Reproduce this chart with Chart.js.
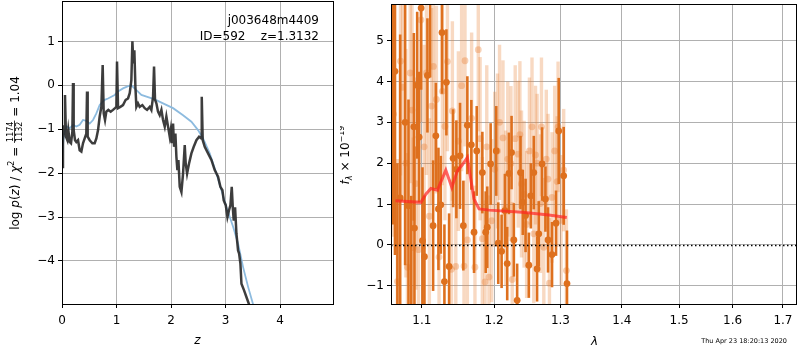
<!DOCTYPE html>
<html>
<head>
<meta charset="utf-8">
<script src="https://cdn.jsdelivr.net/npm/chart.js@4.4.1/dist/chart.umd.min.js"></script>
<style>
  body { margin: 0; background: #fff; }
  #wrap { position: relative; width: 800px; height: 350px; }
  canvas { position: absolute; top: 0; }
</style>
</head>
<body>
<div id="wrap">
  <canvas id="pz" width="340" height="350" style="left:0"></canvas>
  <canvas id="spec" width="460" height="350" style="left:340px"></canvas>
</div>
<script>
// p(z) panel
const Z_BLACK = [0,0.018,0.037,0.055,0.073,0.098,0.116,0.141,0.165,0.190,0.202,0.214,0.239,0.263,0.294,0.324,0.355,0.385,0.416,0.446,0.459,0.471,0.508,0.557,0.599,0.630,0.661,0.691,0.722,0.746,0.765,0.789,0.813,0.850,0.893,0.936,0.972,0.997,1.009,1.028,1.070,1.119,1.168,1.211,1.242,1.272,1.291,1.309,1.327,1.346,1.364,1.394,1.425,1.474,1.517,1.560,1.609,1.639,1.670,1.688,1.706,1.731,1.761,1.792,1.823,1.853,1.884,1.914,1.945,1.976,1.994,2.012,2.037,2.055,2.080,2.098,2.116,2.135,2.159,2.190,2.220,2.251,2.269,2.294,2.330,2.373,2.416,2.465,2.514,2.557,2.563,2.581,2.618,2.679,2.740,2.801,2.862,2.905,2.942,2.966,3.003,3.034,3.064,3.089,3.113,3.132,3.150,3.174,3.199,3.229,3.248,3.272,3.291,3.339,3.382,3.431,3.47];
const LOGP_BLACK = [-1.86,-1.25,-0.94,-0.22,-1.17,-1.25,-1.02,-1.29,-1.32,-1.06,0.05,-1.02,-1.25,-1.29,-1.25,-1.48,-1.51,-1.32,-1.21,-1.10,-0.14,-1.17,-1.25,-1.32,-1.32,-1.21,-1.02,-0.71,-0.49,0.46,-0.64,-0.79,-0.60,-0.56,-0.60,-0.56,-0.52,-0.49,0.54,-0.52,-0.49,-0.45,-0.33,-0.30,-0.18,0.12,1.0,0.5,0.8,-0.03,-0.49,-0.41,-0.49,-0.45,-0.52,-0.56,-0.49,-0.56,-0.26,0.43,-0.33,-0.41,-0.60,-0.68,-0.56,-0.79,-0.94,-0.71,-0.94,-1.17,-1.02,-1.32,-0.87,-1.40,-1.10,-1.63,-1.93,-1.70,-2.31,-2.43,-2.01,-1.36,-1.78,-2.01,-1.78,-1.55,-1.40,-1.25,-1.17,-1.21,-0.26,-1.25,-1.40,-1.55,-1.70,-1.93,-2.08,-2.31,-2.39,-2.62,-2.73,-3.0,-2.84,-2.73,-2.31,-2.78,-3.08,-2.78,-3.38,-3.76,-3.83,-4.06,-4.52,-4.67,-4.82,-4.99,-5.3];
const Z_BLUE = [0,0.037,0.080,0.141,0.202,0.263,0.324,0.385,0.446,0.508,0.569,0.630,0.691,0.783,0.844,0.905,0.966,1.028,1.119,1.211,1.272,1.364,1.456,1.578,1.700,1.853,2.037,2.220,2.373,2.495,2.587,2.709,2.832,2.924,3.015,3.138,3.229,3.321,3.413,3.505,3.54];
const LOGP_BLUE = [-1.63,-1.10,-0.93,-0.98,-0.90,-0.94,-0.90,-0.79,-0.81,-0.87,-0.79,-0.64,-0.45,-0.33,-0.30,-0.26,-0.22,-0.14,-0.07,-0.02,0.0,-0.11,-0.22,-0.27,-0.32,-0.41,-0.52,-0.68,-0.83,-1.02,-1.21,-1.55,-2.01,-2.39,-2.77,-3.22,-3.60,-4.14,-4.59,-4.99,-5.2];
const Z_TICKS = [0, 1, 2, 3, 4];
const LOGP_TICKS = [-4, -3, -2, -1, 0, 1];

// spectrum panel
const LAM_MODEL = [1.0655,1.0987,1.1053,1.112,1.1208,1.1322,1.1404,1.148,1.155,1.162,1.1653,1.1714,1.1785,1.1927,1.2414,1.2819,1.310];
const F_MODEL = [1.08,1.04,1.24,1.38,1.34,1.83,1.41,1.81,1.96,2.14,1.77,1.12,0.88,0.85,0.80,0.73,0.67];

const LAM_DARK = [1.0620,1.0649,1.0680,1.0716,1.0780,1.0824,1.0860,1.0894,1.0902,1.0938,1.0964,1.0990,1.1008,1.1034,1.1074,1.1110,1.1150,1.1187,1.1222,1.1254,1.1270,1.1303,1.1330,1.1367,1.1422,1.1467,1.1518,1.1564,1.1620,1.1676,1.1714,1.1752,1.1832,1.1880,1.1902,1.1951,1.2032,1.2061,1.2110,1.2158,1.2192,1.2217,1.2256,1.2290,1.2339,1.2389,1.2423,1.2465,1.2514,1.2544,1.2589,1.2639,1.2665,1.2716,1.2767,1.2807,1.2869,1.2931,1.2973,1.3051,1.3103];
const F_DARK = [6.5,4.25,-2.0,1.15,3.0,0.96,-1.8,2.89,0.41,3.91,2.64,5.8,0.10,-0.29,4.15,6.1,0.47,2.67,0.88,0.98,5.2,-0.90,3.98,-0.53,2.12,1.85,2.18,0.47,2.93,2.45,0.31,2.30,1.77,0.31,0.43,1.98,2.30,0.04,-0.16,0.84,-0.46,1.75,2.26,0.12,-1.36,1.77,1.04,0.72,-0.50,1.20,1.77,-0.59,0.27,1.98,1.12,0.12,-0.24,0.53,2.79,1.69,-0.95];
const E_DARK = [6.0,4.5,4.0,4.0,3.5,2.6,3.0,2.3,2.0,1.8,1.6,2.0,1.8,1.5,1.4,2.0,1.6,1.3,1.5,1.2,1.5,1.4,1.3,1.3,1.2,1.2,1.3,1.1,1.2,1.1,1.0,1.1,1.0,1.0,1.0,1.0,1.1,1.0,0.9,0.9,0.9,1.0,0.9,0.9,0.9,0.9,0.8,0.9,0.8,0.8,0.9,0.8,0.8,0.9,0.8,0.8,0.8,0.8,1.3,1.2,1.3];

const LAM_LIGHT = [1.0630,1.0680,1.0720,1.0747,1.0790,1.0810,1.0846,1.0870,1.0886,1.0920,1.0955,1.0987,1.1030,1.1061,1.1100,1.1130,1.1154,1.1194,1.1230,1.1275,1.1310,1.1344,1.1400,1.1412,1.1459,1.1495,1.1540,1.1573,1.1587,1.1620,1.1680,1.1727,1.1774,1.1800,1.1832,1.1870,1.1895,1.1927,1.1966,1.2010,1.2050,1.2080,1.2130,1.2170,1.2200,1.2247,1.2266,1.2310,1.2354,1.2380,1.2404,1.2443,1.2480,1.2523,1.2562,1.2589,1.2615,1.2640,1.2691,1.2706,1.2742,1.2780,1.2807,1.2829,1.2869,1.2910,1.2948,1.2963,1.3010,1.3051,1.3094];
const F_LIGHT = [3.2,-0.90,4.5,3.86,2.0,-0.55,4.21,3.3,-0.07,1.50,-0.12,5.51,2.4,4.21,0.70,3.4,4.37,3.56,-0.30,3.76,2.9,4.49,-0.60,3.28,-0.53,2.54,3.9,-0.52,4.51,0.12,3.1,-0.55,4.78,2.6,0.15,-0.91,2.40,-0.79,0.59,1.85,2.3,3.0,2.62,0.9,2.1,1.99,-0.85,2.6,2.22,2.7,1.49,1.24,0.5,2.30,2.89,0.27,2.2,2.0,1.01,2.89,-0.06,2.1,1.61,-0.94,1.16,2.3,1.55,2.89,0.6,1.83,-0.63];
const E_LIGHT = [3.0,3.0,2.8,2.8,2.8,2.8,2.7,2.7,2.7,2.6,2.6,2.5,2.5,2.5,2.4,2.4,2.4,2.3,2.3,2.3,2.3,2.2,2.2,2.2,2.2,2.2,2.1,2.1,2.1,2.1,2.1,2.0,2.0,2.0,2.0,2.0,2.0,2.0,2.0,1.9,1.9,1.9,1.9,1.9,1.9,1.9,1.9,1.8,1.8,1.8,1.8,1.8,1.8,1.8,1.7,1.7,1.7,1.7,1.7,1.7,1.7,1.7,1.6,1.6,1.6,1.6,1.6,1.6,1.6,1.5,1.5];
const LAM_TICKS = [1.1, 1.2, 1.3, 1.4, 1.5, 1.6, 1.7];
const F_TICKS = [-1, 0, 1, 2, 3, 4, 5];

Chart.defaults.font.family = '"DejaVu Sans"';
Chart.defaults.font.size = 12;
Chart.defaults.color = '#000';
Chart.defaults.animation = false;

const FONT = '12px "DejaVu Sans"';
const ITAL = 'italic 12px "DejaVu Sans"';
const SMALL = '8px "DejaVu Sans"';
const SMALL_IT = 'italic 8px "DejaVu Sans"';

const minus = v => (v < 0 ? '\u2212' : '') + Math.abs(v);
const pts = (xs, ys) => xs.map((x, i) => ({ x: x, y: ys[i] }));

function richWidth(ctx, pieces) {
  let w = 0;
  for (const p of pieces) {
    ctx.font = p.f;
    if (p.frac) w += Math.max(ctx.measureText(p.frac[0]).width, ctx.measureText(p.frac[1]).width) + 2;
    else w += ctx.measureText(p.t).width;
  }
  return w;
}

// rotated mathtext-like label, baseline at page x = cx
function drawRich(ctx, cx, cy, pieces) {
  ctx.save();
  ctx.translate(cx, cy);
  ctx.rotate(-Math.PI / 2);
  ctx.fillStyle = '#000';
  ctx.textBaseline = 'alphabetic';
  let x = -richWidth(ctx, pieces) / 2;
  for (const p of pieces) {
    ctx.font = p.f;
    if (p.frac) {
      const w = Math.max(ctx.measureText(p.frac[0]).width, ctx.measureText(p.frac[1]).width) + 2;
      ctx.textAlign = 'center';
      ctx.fillText(p.frac[0], x + w / 2, -5.6);
      ctx.fillText(p.frac[1], x + w / 2, 3.6);
      ctx.fillRect(x, -4.4, w, 0.8);
      x += w;
    } else {
      ctx.textAlign = 'left';
      ctx.fillText(p.t, x, p.dy || 0);
      x += ctx.measureText(p.t).width;
    }
  }
  ctx.restore();
}

const frame = {
  id: 'frame',
  afterDraw(chart) {
    const { ctx, chartArea: a } = chart;
    ctx.save();
    ctx.strokeStyle = '#000';
    ctx.lineWidth = 1;
    ctx.strokeRect(Math.round(a.left) + 0.5, Math.round(a.top) + 0.5, Math.round(a.right - a.left), Math.round(a.bottom - a.top));
    ctx.restore();
  }
};

const errorBars = {
  id: 'errorBars',
  beforeDatasetDraw(chart, args) {
    const ds = chart.data.datasets[args.index];
    if (!ds.errs) return;
    const { ctx, chartArea: a } = chart;
    const xs = chart.scales.x, ys = chart.scales.y;
    ctx.save();
    ctx.beginPath();
    ctx.rect(a.left, a.top, a.right - a.left, a.bottom - a.top);
    ctx.clip();
    ctx.strokeStyle = ds.errColor;
    ctx.lineWidth = ds.errWidth;
    ds.data.forEach((p, i) => {
      const px = xs.getPixelForValue(p.x);
      ctx.beginPath();
      ctx.moveTo(px, ys.getPixelForValue(p.y - ds.errs[i]));
      ctx.lineTo(px, ys.getPixelForValue(p.y + ds.errs[i]));
      ctx.stroke();
    });
    ctx.restore();
  }
};

function axisOpts(extra) {
  return Object.assign({
    grid: { color: '#b0b0b0', lineWidth: 1, tickColor: '#000', tickLength: 4 },
    border: { color: '#000', width: 1 },
  }, extra);
}

function fitX(s) { s.height = 46; s.paddingLeft = 0; s.paddingRight = 0; }
function fitY(w) { return s => { s.width = w; s.paddingTop = 0; s.paddingBottom = 0; }; }

// ---- left: p(z)
new Chart(document.getElementById('pz'), {
  type: 'line',
  data: {
    datasets: [
      { data: pts(Z_BLACK, LOGP_BLACK), borderColor: 'rgba(40,40,40,0.9)', borderWidth: 2.5, pointRadius: 0, order: 0 },
      { data: pts(Z_BLUE, LOGP_BLUE), borderColor: '#8dbbdf', borderWidth: 1.8, pointRadius: 0, order: 1 }
    ]
  },
  options: {
    responsive: false,
    layout: { padding: { top: 1, right: 7, left: 0, bottom: 0 } },
    plugins: { legend: { display: false }, tooltip: { enabled: false } },
    scales: {
      x: axisOpts({
        type: 'linear', min: 0, max: 4.97,
        afterBuildTicks: s => { s.ticks = Z_TICKS.map(v => ({ value: v })); },
        afterFit: fitX,
        ticks: { padding: 6, maxRotation: 0, callback: v => minus(v) }
      }),
      y: axisOpts({
        min: -4.98, max: 1.92,
        afterBuildTicks: s => { s.ticks = LOGP_TICKS.map(v => ({ value: v })); },
        afterFit: fitY(62),
        ticks: { padding: 3, callback: v => minus(v) }
      })
    }
  },
  plugins: [frame, {
    id: 'pzText',
    afterDraw(chart) {
      const ctx = chart.ctx;
      ctx.save();
      ctx.fillStyle = '#000';
      ctx.font = FONT;
      ctx.textAlign = 'right';
      ctx.textBaseline = 'alphabetic';
      ctx.fillText('j003648m4409', 319, 23.5);
      ctx.fillText('ID=592    z=1.3132', 319, 39.5);
      ctx.font = ITAL;
      ctx.textAlign = 'center';
      ctx.fillText('z', 197.5, 344);
      ctx.restore();
      drawRich(ctx, 18.5, 153, [
        { t: 'log ', f: FONT }, { t: 'p', f: ITAL }, { t: '(', f: FONT }, { t: 'z', f: ITAL },
        { t: ') / ', f: FONT }, { t: '\u03c7', f: ITAL }, { t: '2', f: SMALL, dy: -5 },
        { t: ' = ', f: FONT }, { frac: ['1174', '1132'], f: SMALL }, { t: ' = 1.04', f: FONT }
      ]);
    }
  }]
});

// ---- right: spectrum
new Chart(document.getElementById('spec'), {
  type: 'scatter',
  data: {
    datasets: [
      { type: 'line', data: pts(LAM_MODEL, F_MODEL), borderColor: 'rgba(255,35,35,0.7)', borderWidth: 3, pointRadius: 0, order: 0 },
      { data: pts(LAM_DARK, F_DARK), errs: E_DARK, errColor: 'rgb(222,112,30)', errWidth: 2.6,
        backgroundColor: 'rgb(222,112,30)', borderWidth: 0, pointRadius: 3.4, order: 1 },
      { data: pts(LAM_LIGHT, F_LIGHT), errs: E_LIGHT, errColor: 'rgba(232,128,52,0.3)', errWidth: 3.4,
        backgroundColor: 'rgba(232,128,52,0.36)', borderWidth: 0, pointRadius: 3.4, order: 2 }
    ]
  },
  options: {
    responsive: false,
    layout: { padding: { top: 1, right: 2, left: 0, bottom: 0 } },
    plugins: { legend: { display: false }, tooltip: { enabled: false } },
    scales: {
      x: axisOpts({
        type: 'logarithmic', min: 1.0598, max: 1.727,
        afterBuildTicks: s => { s.ticks = LAM_TICKS.map(v => ({ value: v })); },
        afterFit: fitX,
        ticks: { padding: 6, maxRotation: 0, autoSkip: false, callback: v => Number(v).toFixed(1) }
      }),
      y: axisOpts({
        min: -1.45, max: 5.9,
        afterBuildTicks: s => { s.ticks = F_TICKS.map(v => ({ value: v })); },
        afterFit: fitY(51),
        ticks: { padding: 3, callback: v => minus(v) }
      })
    }
  },
  plugins: [errorBars, frame, {
    id: 'specText',
    afterDatasetsDraw(chart) {
      const { ctx, chartArea: a } = chart;
      const y0 = Math.round(chart.scales.y.getPixelForValue(0)) + 0.5;
      ctx.save();
      ctx.strokeStyle = '#000';
      ctx.lineWidth = 1.5;
      ctx.setLineDash([1.5, 2.5]);
      ctx.beginPath();
      ctx.moveTo(a.left, y0);
      ctx.lineTo(a.right, y0);
      ctx.stroke();
      ctx.restore();
    },
    afterDraw(chart) {
      const ctx = chart.ctx;
      ctx.save();
      ctx.fillStyle = '#000';
      ctx.font = ITAL;
      ctx.textAlign = 'center';
      ctx.fillText('\u03bb', 254.5, 345);
      ctx.font = '6.5px "DejaVu Sans"';
      ctx.textAlign = 'right';
      ctx.fillText('Thu Apr 23 18:20:13 2020', 447, 342.5);
      ctx.restore();
      drawRich(ctx, 9, 155, [
        { t: 'f', f: ITAL }, { t: '\u03bb', f: SMALL_IT, dy: 3 },
        { t: ' \u00d7 10', f: FONT }, { t: '\u221219', f: SMALL, dy: -5 }
      ]);
    }
  }]
});
</script>
</body>
</html>
